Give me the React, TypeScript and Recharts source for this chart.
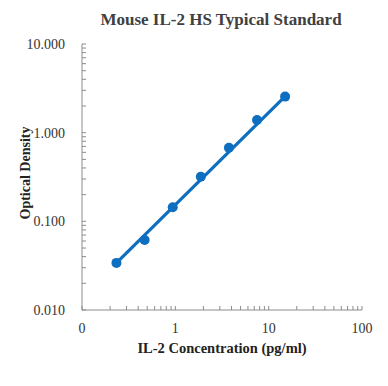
import { ComposedChart, Line, Scatter, XAxis, YAxis } from "recharts"

// Standard curve (pg/ml vs OD)
const concentrations = [0.234, 0.469, 0.938, 1.875, 3.75, 7.5, 15]
const opticalDensity = [0.034, 0.0615, 0.144, 0.318, 0.676, 1.39, 2.55]

// trendline end points as drawn in the reference
const trendConc = [0.234, 15]
const trendOD = [0.034, 2.57]

const xMajorTicks = [0.1, 1, 10, 100]
const xTickLabels = ["0", "1", "10", "100"]
const yMajorTicks = [0.01, 0.1, 1, 10]
const yTickLabels = ["0.010", "0.100", "1.000", "10.000"]

const BLUE = "#0E6EC0"
const AXIS = "#8C8C8C"
const FONT = "'Liberation Serif', 'Times New Roman', serif"

// minor ticks for each decade: 2..9 times the lower major tick
const withMinor = (majors: number[]) => {
  const out: number[] = []
  majors.forEach((m, i) => {
    out.push(m)
    if (i < majors.length - 1) {
      for (let k = 2; k <= 9; k++) out.push(+(m * k).toPrecision(3))
    }
  })
  return out
}

const standards = concentrations.map((c, i) => ({ conc: c, od: opticalDensity[i] }))
const trend = trendConc.map((c, i) => ({ conc: c, od: trendOD[i] }))

function XTick(props: any) {
  const { x, y, payload } = props
  const idx = xMajorTicks.indexOf(payload.value)
  return (
    <g>
      <line x1={x} y1={y} x2={x} y2={y - 4} stroke={AXIS} strokeWidth={1} />
      {idx >= 0 && (
        <text x={x} y={y + 18} dy="0.355em" textAnchor="middle" fontSize={14} fill="#333" fontFamily={FONT}>
          {xTickLabels[idx]}
        </text>
      )}
    </g>
  )
}

function YTick(props: any) {
  const { x, y, payload } = props
  const idx = yMajorTicks.indexOf(payload.value)
  return (
    <g>
      <line x1={x} y1={y} x2={x + 4} y2={y} stroke={AXIS} strokeWidth={1} />
      {idx >= 0 && (
        <text x={x - 17} y={y} dy="0.355em" textAnchor="end" fontSize={14} fill="#333" fontFamily={FONT}>
          {yTickLabels[idx]}
        </text>
      )}
    </g>
  )
}

function Dot(props: any) {
  const { cx, cy } = props
  return <circle cx={cx} cy={cy} r={5} fill={BLUE} />
}

export default function App() {
  return (
    <div style={{ position: "absolute", left: 0, top: 0, width: 388, height: 386, background: "#fff", fontFamily: FONT }}>
      <div
        style={{
          position: "absolute",
          left: 0,
          width: 442,
          top: 10,
          textAlign: "center",
          fontSize: 17,
          fontWeight: "bold",
          color: "#404040",
          lineHeight: "20px",
        }}
      >
        Mouse IL-2 HS Typical Standard
      </div>
      <ComposedChart width={388} height={386} margin={{ top: 44, right: 26, bottom: 0, left: 0 }}>
        <XAxis
          dataKey="conc"
          type="number"
          scale="log"
          domain={[0.1, 100]}
          allowDataOverflow
          ticks={withMinor(xMajorTicks)}
          interval={0}
          tickSize={0}
          tickMargin={0}
          tickLine={false}
          tick={<XTick />}
          height={76}
          stroke={AXIS}
        />
        <YAxis
          dataKey="od"
          type="number"
          scale="log"
          domain={[0.01, 10]}
          allowDataOverflow
          ticks={withMinor(yMajorTicks)}
          interval={0}
          tickSize={0}
          tickMargin={0}
          tickLine={false}
          tick={<YTick />}
          width={82}
          stroke={AXIS}
        />
        <Line
          data={trend}
          dataKey="od"
          stroke={BLUE}
          strokeWidth={3.2}
          dot={false}
          activeDot={false}
          isAnimationActive={false}
        />
        <Scatter data={standards} dataKey="od" fill={BLUE} shape={<Dot />} isAnimationActive={false} />
      </ComposedChart>
      <div
        style={{
          position: "absolute",
          left: 0,
          width: 444,
          top: 338,
          textAlign: "center",
          fontSize: 14.5,
          fontWeight: "bold",
          color: "#222",
          lineHeight: "20px",
        }}
      >
        IL-2 Concentration (pg/ml)
      </div>
      <div
        style={{
          position: "absolute",
          left: 26 - 60,
          top: 173 - 10,
          width: 120,
          textAlign: "center",
          transform: "rotate(-90deg)",
          fontSize: 14,
          fontWeight: "bold",
          color: "#222",
          lineHeight: "20px",
        }}
      >
        Optical Density
      </div>
    </div>
  )
}
